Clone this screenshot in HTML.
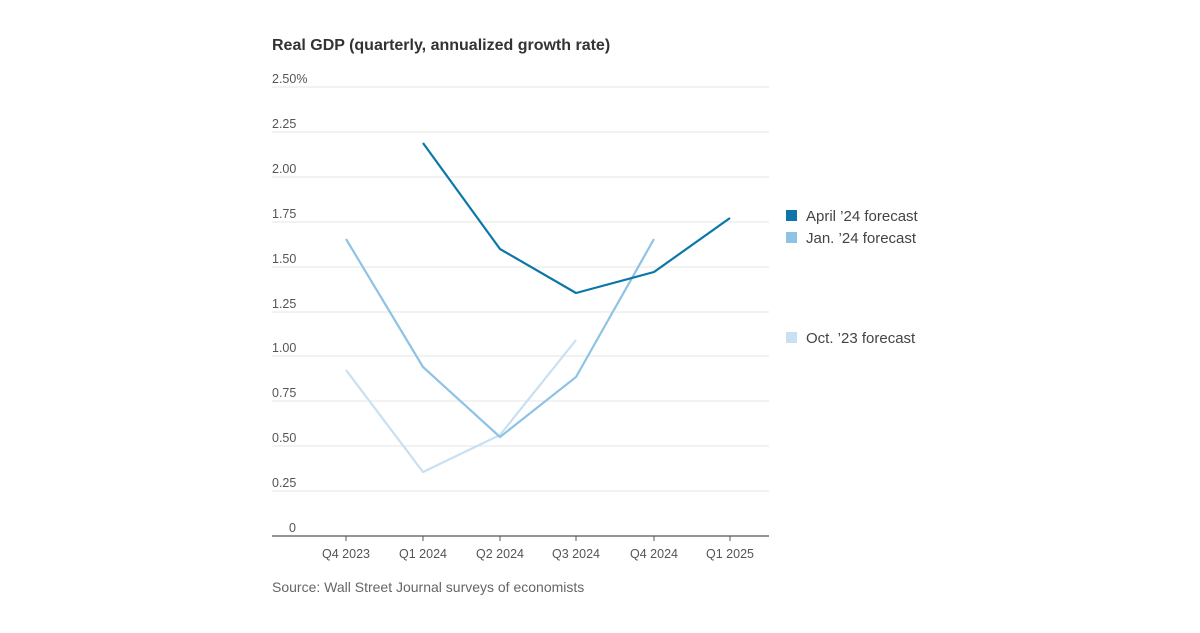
<!DOCTYPE html>
<html><head><meta charset="utf-8"><style>
body{margin:0;background:#fff;}
svg text{font-family:"Liberation Sans",sans-serif;}
</style></head><body>
<svg width="1200" height="628" viewBox="0 0 1200 628" xmlns="http://www.w3.org/2000/svg">
<rect width="1200" height="628" fill="#fff"/>
<text x="272" y="50" font-size="16" font-weight="bold" fill="#333">Real GDP (quarterly, annualized growth rate)</text>
<g stroke="#e4e4e4" stroke-width="1">
<line x1="272" x2="769" y1="87" y2="87"/>
<line x1="272" x2="769" y1="132" y2="132"/>
<line x1="272" x2="769" y1="177" y2="177"/>
<line x1="272" x2="769" y1="222" y2="222"/>
<line x1="272" x2="769" y1="267" y2="267"/>
<line x1="272" x2="769" y1="312" y2="312"/>
<line x1="272" x2="769" y1="356" y2="356"/>
<line x1="272" x2="769" y1="401" y2="401"/>
<line x1="272" x2="769" y1="446" y2="446"/>
<line x1="272" x2="769" y1="491" y2="491"/>
</g>
<line x1="272" x2="769" y1="536" y2="536" stroke="#555" stroke-width="1.2"/>
<g stroke="#555" stroke-width="1">
<line x1="346" x2="346" y1="536" y2="541"/><line x1="423" x2="423" y1="536" y2="541"/>
<line x1="500" x2="500" y1="536" y2="541"/><line x1="576" x2="576" y1="536" y2="541"/>
<line x1="654" x2="654" y1="536" y2="541"/><line x1="730" x2="730" y1="536" y2="541"/>
</g>
<g font-size="12.5" fill="#555">
<text x="272" y="83">2.50%</text><text x="272" y="128">2.25</text><text x="272" y="173">2.00</text>
<text x="272" y="218">1.75</text><text x="272" y="263">1.50</text><text x="272" y="308">1.25</text>
<text x="272" y="352">1.00</text><text x="272" y="397">0.75</text><text x="272" y="442">0.50</text>
<text x="272" y="487">0.25</text><text x="289" y="532">0</text>
</g>
<g font-size="12.5" fill="#555" text-anchor="middle">
<text x="346" y="558">Q4 2023</text><text x="423" y="558">Q1 2024</text><text x="500" y="558">Q2 2024</text>
<text x="576" y="558">Q3 2024</text><text x="654" y="558">Q4 2024</text><text x="730" y="558">Q1 2025</text>
</g>
<text x="272" y="592" font-size="14" fill="#666">Source: Wall Street Journal surveys of economists</text>
<g fill="none" stroke-width="2.2" stroke-linejoin="round">
<polyline stroke="#c8e0f3" points="346,370 423,472 500,435 576,340"/>
<polyline stroke="#8fc3e6" points="346,239 423,367 500,437 576,377 654,239"/>
<polyline stroke="#0a77a8" points="423,143 500,249 576,293 654,272 730,218"/>
</g>
<rect x="786" y="210" width="11" height="11" fill="#0a77a8"/>
<rect x="786" y="232" width="11" height="11" fill="#8fc3e6"/>
<rect x="786" y="332" width="11" height="11" fill="#c8e0f3"/>
<g font-size="15" fill="#444">
<text x="806" y="221">April ’24 forecast</text>
<text x="806" y="243">Jan. ’24 forecast</text>
<text x="806" y="343">Oct. ’23 forecast</text>
</g>
</svg>
</body></html>
